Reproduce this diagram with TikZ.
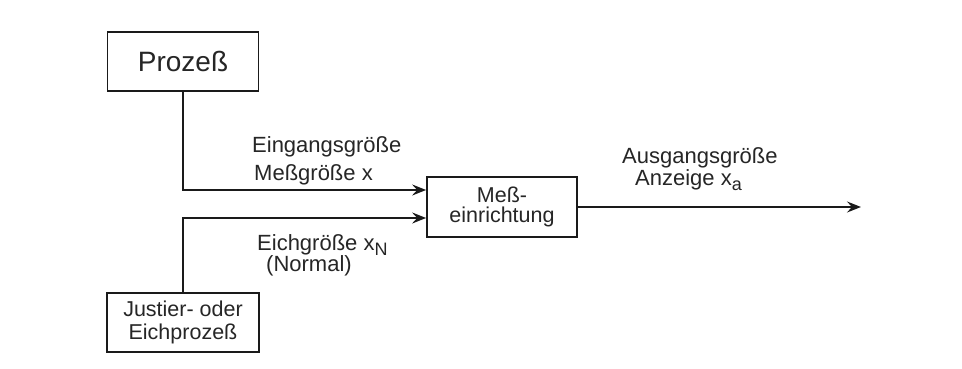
\documentclass[tikz,border=0pt]{standalone}
\usepackage{fontspec}
\setmainfont{Liberation Sans}
\usetikzlibrary{arrows.meta}
\definecolor{ink}{HTML}{1A1A1A}
\definecolor{txt}{HTML}{262626}
% lowered index letter, as in x_N and x_a
\newcommand\lowidx[1]{\raisebox{-5pt}{\fontsize{18}{18}\selectfont #1}}
\begin{document}
\begin{tikzpicture}[x=1pt,y=-1pt,
  blk/.style={draw=ink, line width=1.7pt, fill=white, inner sep=0pt, align=center, text=txt},
  lbl/.style={anchor=base west, inner sep=0pt, text=txt, font=\fontsize{22}{24}\selectfont},
  flow/.style={draw=ink, line width=1.7pt, -{Stealth[length=14pt,width=11pt,inset=5pt]}}]
\useasboundingbox[fill=white] (0,0) rectangle (962,369);

% blocks
\node[blk, minimum width=151pt, minimum height=59pt, font=\fontsize{28}{30}\selectfont] (proz) at (183,61.5) {Prozeß};
\node[blk, minimum width=152pt, minimum height=59pt, font=\fontsize{21.5}{23}\selectfont] (just) at (183,322.5) {Justier- oder\\Eichprozeß};
\node[blk, minimum width=150pt, minimum height=60pt, font=\fontsize{21.5}{20}\selectfont] (mess) at (502,207) {Meß-\\einrichtung};
\coordinate (out) at (861,206);

% signal paths
\draw[flow] (proz.south) |- ([yshift=17pt]mess.west);
\draw[flow] (just.north) |- ([yshift=-11pt]mess.west);
\draw[flow] (mess.east) -- (mess.east -| out);

% labels
\node[lbl] (ein) at (252,152) {Eingangsgröße};
\node[lbl] (mg) at (254,180) {Meßgröße x};
\node[lbl] (eich) at (257,250) {Eichgröße x\lowidx{N}};
\node[lbl] (norm) at (266,271) {(Normal)};
\node[lbl] (aus) at (622,163) {Ausgangsgröße};
\node[lbl] (anz) at (635,185) {Anzeige x\lowidx{a}};
\end{tikzpicture}
\end{document}
